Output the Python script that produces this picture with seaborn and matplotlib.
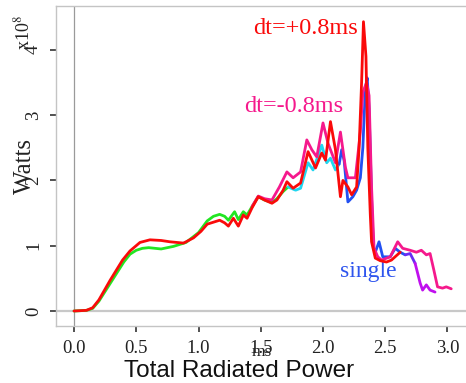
import numpy as np
import pandas as pd
import seaborn as sns
import matplotlib
matplotlib.use("Agg")
import matplotlib.pyplot as plt

# ---------------- data ----------------
single_t = [0.00, 0.10, 0.15, 0.20, 0.30, 0.40, 0.45, 0.50, 0.55, 0.60, 0.70, 0.80,
            0.90, 1.00, 1.07, 1.12, 1.17, 1.21, 1.24, 1.29, 1.32, 1.36, 1.39, 1.43,
            1.48, 1.53, 1.59, 1.63, 1.68, 1.72, 1.78, 1.82, 1.88, 1.92, 1.99, 2.03,
            2.06, 2.10, 2.13, 2.15, 2.17, 2.20, 2.24, 2.27, 2.30, 2.32, 2.34, 2.355,
            2.37, 2.39, 2.405, 2.42, 2.45, 2.48, 2.54, 2.58, 2.62, 2.66, 2.70, 2.74,
            2.78, 2.80, 2.83, 2.86, 2.90]
single_w = [0.00, 0.01, 0.04, 0.15, 0.45, 0.75, 0.87, 0.93, 0.96, 0.97, 0.95, 0.99,
            1.05, 1.20, 1.38, 1.45, 1.48, 1.45, 1.39, 1.52, 1.40, 1.52, 1.47, 1.60,
            1.75, 1.70, 1.66, 1.72, 1.83, 1.90, 1.85, 1.88, 2.27, 2.16, 2.54, 2.27,
            2.34, 2.16, 2.25, 2.47, 2.30, 1.67, 1.75, 1.85, 2.04, 2.50, 3.40, 3.57,
            3.10, 1.73, 0.96, 0.90, 1.06, 0.83, 0.83, 0.96, 0.90, 0.86, 0.88, 0.73,
            0.43, 0.32, 0.40, 0.32, 0.29]

minus_t = [1.43, 1.48, 1.53, 1.59, 1.65, 1.71, 1.76, 1.82, 1.87, 1.91, 1.95, 2.00,
           2.04, 2.10, 2.14, 2.18, 2.20, 2.23, 2.26, 2.30, 2.32, 2.35, 2.37, 2.39,
           2.41, 2.44, 2.47, 2.54, 2.60, 2.64, 2.70, 2.75, 2.79, 2.83, 2.86, 2.89,
           2.92, 2.96, 2.99, 3.03]
minus_w = [1.60, 1.76, 1.72, 1.70, 1.90, 2.13, 2.04, 2.13, 2.62, 2.47, 2.36, 2.88,
           2.57, 2.27, 2.74, 2.20, 2.04, 2.04, 2.04, 2.74, 3.35, 3.50, 3.30, 1.90,
           0.96, 0.83, 0.78, 0.83, 1.06, 0.96, 0.93, 0.90, 0.93, 0.86, 0.88, 0.63,
           0.37, 0.35, 0.37, 0.34]

plus_t = [0.00, 0.10, 0.15, 0.20, 0.29, 0.39, 0.45, 0.53, 0.61, 0.70, 0.77, 0.88,
          0.96, 1.02, 1.07, 1.12, 1.17, 1.21, 1.24, 1.28, 1.32, 1.36, 1.39, 1.43,
          1.48, 1.53, 1.59, 1.63, 1.68, 1.71, 1.76, 1.82, 1.88, 1.94, 1.99, 2.02,
          2.06, 2.10, 2.14, 2.16, 2.20, 2.23, 2.27, 2.29, 2.31, 2.325, 2.345, 2.36,
          2.38, 2.39, 2.42, 2.46, 2.51, 2.55, 2.62]
plus_w = [0.00, 0.01, 0.05, 0.17, 0.47, 0.78, 0.92, 1.05, 1.09, 1.08, 1.06, 1.04,
          1.12, 1.22, 1.33, 1.36, 1.39, 1.35, 1.30, 1.42, 1.30, 1.47, 1.42, 1.58,
          1.75, 1.70, 1.65, 1.70, 1.85, 1.98, 1.88, 1.96, 2.44, 2.19, 2.42, 2.31,
          2.90, 2.47, 1.75, 2.00, 1.90, 1.78, 1.90, 2.50, 3.50, 4.43, 3.90, 2.50,
          1.47, 1.06, 0.81, 0.77, 0.75, 0.78, 0.90]

x_ticks = [0.0, 0.5, 1.0, 1.5, 2.0, 2.5, 3.0]
x_ticklabels = ["0.0", "0.5", "1.0", "1.5", "2.0", "2.5", "3.0"]
y_ticks = [0, 1, 2, 3, 4]
y_ticklabels = ["0", "1", "2", "3", "4"]

# ---------------- styling ----------------
sns.set_style("white")
plt.rcParams["font.family"] = ["Liberation Serif", "DejaVu Serif"]
plt.rcParams["mathtext.fontset"] = "stix"

# colour bands of the "single" trace (gradient green -> cyan -> blue -> violet)
band_edges = [1.72, 2.13, 2.66, 2.74]
band_names = ["g", "c", "b", "bv", "v"]
band_colors = {"g": "#22e622", "c": "#1fd6f0", "b": "#2250f2", "bv": "#6a2cf2", "v": "#c010ee"}

rows = []
for i, (t, w) in enumerate(zip(single_t, single_w)):
    k = int(np.searchsorted(band_edges, t, side="left"))
    rows.append((t, w, band_names[k], i))
    if t in band_edges:
        rows.append((t, w, band_names[k + 1], i))
single_df = pd.DataFrame(rows, columns=["ms", "W", "band", "order"])

minus_df = pd.DataFrame({"ms": minus_t, "W": minus_w})
plus_df = pd.DataFrame({"ms": plus_t, "W": plus_w})

fig = plt.figure(figsize=(4.66, 3.83), dpi=100)
W_, H_ = 466, 383
ax = fig.add_axes([56 / W_, (H_ - 326) / H_, (490 - 56) / W_, (326 - 6) / H_])

# reference lines
ax.axvline(0, color="#9a9a9a", lw=0.9, zorder=1)
ax.axhline(0, color="#c8c8c8", lw=1.6, zorder=1)

lw = 2.0
sns.lineplot(data=single_df, x="ms", y="W", hue="band", palette=band_colors,
             units="band", estimator=None, sort=False, lw=lw, legend=False, ax=ax, zorder=3)
sns.lineplot(data=minus_df, x="ms", y="W", color="#f5198c", estimator=None,
             sort=False, lw=lw, legend=False, ax=ax, zorder=4)
sns.lineplot(data=plus_df, x="ms", y="W", color="#fa0a0a", estimator=None,
             sort=False, lw=lw, legend=False, ax=ax, zorder=5)

x0 = 74; sx = 124.5; y0 = 311; sy = 65.3
ax.set_xlim((56 - x0) / sx, (490 - x0) / sx)
ax.set_ylim(-(326 - y0) / sy, (y0 - 6) / sy)

ax.set_xticks(x_ticks)
ax.set_xticklabels(x_ticklabels, fontsize=13.5)
ax.set_yticks(y_ticks)
ax.set_yticklabels(y_ticklabels, fontsize=13.5, rotation=90, va="center")
ax.tick_params(axis="both", direction="out", length=4, width=1.2, color="#333333",
               pad=6, labelcolor="#222222")
ax.tick_params(axis="x", bottom=True)
ax.tick_params(axis="y", left=True)
ax.set_xlabel("")
ax.set_ylabel("")
for s in ["top", "bottom", "left", "right"]:
    ax.spines[s].set_color("#c4c4c4")
    ax.spines[s].set_linewidth(1.0)

# annotations
ax.text((358 - x0) / sx, (y0 - 28) / sy, "dt=+0.8ms", color="#fa0a0a", fontsize=17.5,
        ha="right", va="center")
ax.text((343 - x0) / sx, (y0 - 106) / sy, "dt=-0.8ms", color="#f5198c", fontsize=17.5,
        ha="right", va="center")
ax.text((340 - x0) / sx, (y0 - 272) / sy, "single", color="#2f55ee", fontsize=17,
        ha="left", va="center")

# axis labels / title
fig.text(25 / W_, 1 - 166 / H_, "Watts", rotation=90, fontsize=18, ha="center", va="center",
         color="#222222")
fig.text(23 / W_, 1 - 33 / H_, r"x10$^{8}$", rotation=90, fontsize=13, ha="center",
         va="center", color="#222222")
fig.text(262 / W_, 1 - 352 / H_, "ms", fontsize=12.5, ha="center", va="center", color="#222222")
fig.text(239 / W_, 1 - 371 / H_, "Total Radiated Power", fontsize=17.5, ha="center",
         va="center", family="Liberation Sans", color="#111111")

fig.savefig("out.png", dpi=100)
